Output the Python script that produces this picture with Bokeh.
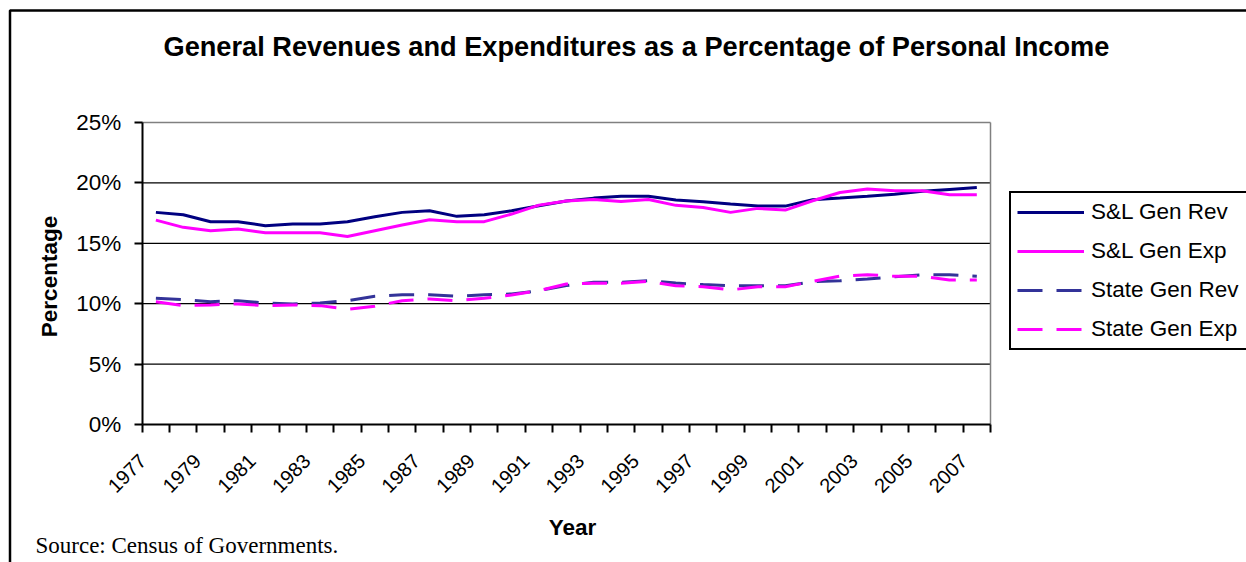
import math
from bokeh.plotting import figure
from bokeh.models import (Range1d, FixedTicker, PrintfTickFormatter, CustomJSTickFormatter,
                          Legend, LegendItem, Label, BoxAnnotation)
from bokeh.embed import file_html
from bokeh.resources import INLINE

years = list(range(1977, 2008))
sl_gen_rev = [17.56, 17.36, 16.79, 16.79, 16.46, 16.60, 16.60, 16.79, 17.20, 17.56,
              17.70, 17.23, 17.36, 17.70, 18.10, 18.50, 18.74, 18.90, 18.90, 18.58,
              18.44, 18.25, 18.08, 18.08, 18.60, 18.74, 18.90, 19.07, 19.30, 19.46, 19.62]
sl_gen_exp = [16.92, 16.32, 16.04, 16.18, 15.88, 15.88, 15.88, 15.57, 16.04, 16.51,
              16.95, 16.79, 16.79, 17.42, 18.16, 18.50, 18.63, 18.47, 18.63, 18.14,
              17.97, 17.56, 17.89, 17.75, 18.52, 19.21, 19.49, 19.35, 19.35, 19.02, 19.02]
state_gen_rev = [10.45, 10.34, 10.17, 10.25, 10.06, 9.98, 10.06, 10.25, 10.61, 10.75,
                 10.75, 10.61, 10.75, 10.80, 11.08, 11.50, 11.77, 11.77, 11.90, 11.71,
                 11.58, 11.49, 11.49, 11.49, 11.82, 11.90, 12.04, 12.24, 12.40, 12.40, 12.27]
state_gen_exp = [10.17, 9.84, 9.90, 9.98, 9.84, 9.90, 9.84, 9.54, 9.79, 10.25,
                 10.39, 10.25, 10.45, 10.72, 11.08, 11.63, 11.69, 11.69, 11.85, 11.49,
                 11.41, 11.14, 11.41, 11.41, 11.85, 12.29, 12.40, 12.27, 12.27, 11.96, 11.96]
year_labels = [str(y) for y in range(1977, 2008, 2)]
y_ticks = [0, 5, 10, 15, 20, 25]
grid_levels = [5, 10, 15, 20]

title_text = "General Revenues and Expenditures as a Percentage of Personal Income"
source_text = "Source: Census of Governments."
legend_labels = ["S&L Gen Rev", "S&L Gen Exp", "State Gen Rev", "State Gen Exp"]
FONT = "Liberation Sans"

W, H = 1246, 562
# plot area (canvas px): left/right/top/bottom
PL, PR, PT, PB = 141.7, 990.0, 122.0, 424.0
X0, X1 = years[0] - 0.5, years[-1] + 0.5
Y0, Y1 = y_ticks[0], y_ticks[-1]
cat_px = (PR - PL) / (X1 - X0)
val_px = (PB - PT) / (Y1 - Y0)
x_start = X0 - PL / cat_px
y_start = Y0 - (H - PB) / val_px

p = figure(width=W, height=H, output_backend="svg", toolbar_location=None, title=None,
           x_range=Range1d(x_start, x_start + W / cat_px),
           y_range=Range1d(y_start, y_start + H / val_px),
           min_border=0, min_border_left=0, min_border_right=0,
           min_border_top=0, min_border_bottom=0)
p.outline_line_color = None
p.background_fill_color = "white"
p.border_fill_color = "white"
p.xgrid.visible = False
p.ygrid.visible = False

# grid lines and plot-area border
p.segment(x0=[X0] * len(grid_levels), x1=[X1] * len(grid_levels), y0=grid_levels,
          y1=grid_levels, line_color="black", line_width=1.3)
p.segment(x0=[X0, X1], x1=[X1, X1], y0=[Y1, Y0], y1=[Y1, Y1], line_color="#808080",
          line_width=1.5)

# x axis
xa = p.xaxis[0]
xa.fixed_location = Y0
xa.bounds = (X0, X1)
LABEL_SHIFT = 0.48
xa.ticker = FixedTicker(ticks=[int(s) - LABEL_SHIFT for s in year_labels],
                        minor_ticks=[y - 0.5 for y in years] + [years[-1] + 0.5])
xa.formatter = CustomJSTickFormatter(code="return String(Math.round(tick + %s))" % LABEL_SHIFT)
xa.major_tick_line_color = None
xa.minor_tick_line_color = "black"
xa.minor_tick_line_width = 2
xa.minor_tick_out = 8
xa.minor_tick_in = 0
xa.axis_line_color = "black"
xa.axis_line_width = 2
xa.major_label_orientation = math.pi / 4
xa.major_label_text_font = FONT
xa.major_label_text_font_size = "20px"
xa.major_label_text_color = "black"
xa.major_label_standoff = 25

# y axis
ya = p.yaxis[0]
ya.fixed_location = X0
ya.bounds = (Y0, Y1)
ya.ticker = FixedTicker(ticks=y_ticks)
ya.formatter = PrintfTickFormatter(format="%d%%")
ya.major_tick_line_color = "black"
ya.major_tick_line_width = 2
ya.major_tick_out = 8
ya.major_tick_in = 0
ya.minor_tick_line_color = None
ya.axis_line_color = "black"
ya.axis_line_width = 2
ya.major_label_text_font = FONT
ya.major_label_text_font_size = "22.5px"
ya.major_label_text_color = "black"
ya.major_label_standoff = 13

# series
r1 = p.line(years, sl_gen_rev, line_color="#000080", line_width=3)
r2 = p.line(years, sl_gen_exp, line_color="#FF00FF", line_width=3)
r3 = p.line(years, state_gen_rev, line_color="#333399", line_width=3, line_dash="25 14")
r4 = p.line(years, state_gen_exp, line_color="#FF00FF", line_width=3, line_dash="25 14")

legend = Legend(items=[LegendItem(label=lab, renderers=[r])
                       for lab, r in zip(legend_labels, [r1, r2, r3, r4])],
                location=(1009, H - 350))
legend.label_text_font = FONT
legend.label_text_font_size = "22.5px"
legend.label_text_color = "black"
legend.glyph_width = 67
legend.glyph_height = 20
legend.label_standoff = 7
legend.label_width = 175
legend.spacing = 13
legend.padding = 6
legend.margin = 0
legend.border_line_color = "black"
legend.border_line_alpha = 1.0
legend.border_line_width = 2
legend.background_fill_color = "white"
legend.background_fill_alpha = 1.0
p.add_layout(legend, "center")


def lab(text, cx, cy, size, bold=False, angle=0.0, align="center", font=FONT):
    p.add_layout(Label(x=cx, y=H - cy, x_units="screen", y_units="screen", text=text,
                       text_font=font, text_font_size=size, text_align=align,
                       text_baseline="middle", angle=angle, text_color="black",
                       text_font_style="bold" if bold else "normal"))


lab(title_text, 163, 46, "27.2px", bold=True, align="left")
lab("Percentage", 49, 276, "22.5px", bold=True, angle=math.pi / 2)
lab("Year", 572, 527, "22.5px", bold=True)
lab(source_text, 35, 545, "23px", align="left", font="Liberation Serif")

# outer chart border
p.add_layout(BoxAnnotation(left=9.5, right=W + 40, top=H - 10, bottom=-40,
                           left_units="screen", right_units="screen", top_units="screen",
                           bottom_units="screen", fill_color=None, fill_alpha=0,
                           line_color="black", line_alpha=1.0, line_width=2.5))

open("out.html", "w").write(file_html(p, INLINE))
